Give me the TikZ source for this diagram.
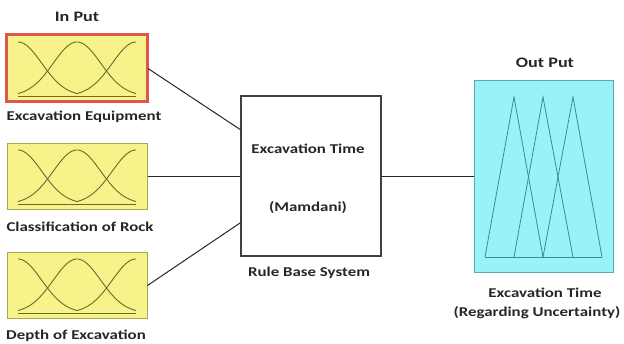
\documentclass[tikz,border=0pt]{standalone}
\usepackage{fontspec}
\setmainfont{Carlito}
\newfontfamily\lblfont[FakeStretch=1.25]{Carlito}
\usetikzlibrary{calc}
\definecolor{yfill}{HTML}{F7F38A}
\definecolor{ydraw}{HTML}{A9A750}
\definecolor{rdraw}{HTML}{E0574A}
\definecolor{mfcol}{HTML}{6B6A2E}
\definecolor{cfill}{HTML}{98F3F6}
\definecolor{cdraw}{HTML}{5AA9B0}
\definecolor{tricol}{HTML}{3A8C93}
\tikzset{
  inbox/.style={draw=ydraw, line width=1pt, fill=yfill, minimum width=140pt, minimum height=66pt, inner sep=0pt},
  lbl/.style={font=\lblfont\bfseries\fontsize{13.5}{15}\selectfont, text=black!85, inner sep=0pt, anchor=center},
  titlelbl/.style={font=\lblfont\bfseries\fontsize{14.5}{16}\selectfont, text=black!85, inner sep=0pt, anchor=center},
  conn/.style={draw=black!85, line width=1pt},
  mf/.style={draw=mfcol, line width=0.9pt},
  tri/.style={draw=tricol, line width=0.8pt}
}
\begin{document}
\begin{tikzpicture}[x=1pt,y=-1pt]
\useasboundingbox (0,0) rectangle (624,344);
% input boxes
\node[inbox, draw=rdraw, line width=2pt] (in1) at (77,68.5) {};
\node[inbox] (in2) at (77,176.5) {};
\node[inbox] (in3) at (77,285.5) {};
\draw[rdraw, line width=2pt] (in1.north west) rectangle (in1.south east);
% membership functions
\foreach \n in {in1,in2,in3}{
  \begin{scope}[shift={(\n.center)}]
    \draw[mf] (-59,27.5) -- (59,27.5);
    \draw[mf] plot[domain=-59:59, samples=60, smooth] (\x, {27.5-54*exp(-((\x)/33.6)^2)});
    \draw[mf] plot[domain=-59:0, samples=40, smooth] (\x, {27.5-54*exp(-((\x+59)/33.6)^2)});
    \draw[mf] plot[domain=0:59, samples=40, smooth] (\x, {27.5-54*exp(-((\x-59)/33.6)^2)});
  \end{scope}
}
\node[titlelbl] (tin) at (77,17) {In Put};
\node[lbl] (l1) at (84,117) {Excavation Equipment};
\node[lbl] (l2) at (80,227) {Classification of Rock};
\node[lbl] (l3) at (76,336) {Depth of Excavation};
% rule base
\node[draw=black!75, line width=1.2pt, fill=white, minimum width=140pt, minimum height=160pt, inner sep=0pt] (rb) at (311,176) {};
\node[lbl] (rt1) at (308,149) {Excavation Time};
\node[lbl] (rt2) at (308,208) {(Mamdani)};
\node[lbl] (rt3) at (309,273) {Rule Base System};
% output
\node[draw=cdraw, line width=1pt, fill=cfill, minimum width=139pt, minimum height=192pt, inner sep=0pt] (out) at (543.5,177) {};
\begin{scope}[shift={(out.center)}]
  \draw[tri] (-58.5,80) -- (58.5,80);
  \draw[tri] (-58.5,80) -- (-29.5,-80) -- (-0.5,80);
  \draw[tri] (-29.5,80) -- (-0.5,-80) -- (29.5,80);
  \draw[tri] (-0.5,80) -- (29.5,-80) -- (58.5,80);
\end{scope}
\node[titlelbl] (tout) at (545,63) {Out Put};
\node[lbl] (o1) at (545,293) {Excavation Time};
\node[lbl] (o2) at (537,313) {(Regarding Uncertainty)};
% connectors
\coordinate (c1) at ($(rb.north west)!0.2125!(rb.south west)$);
\coordinate (c3) at ($(rb.north west)!0.79!(rb.south west)$);
\draw[conn] (in1.east) -- (c1);
\draw[conn] (in2.east) -- (in2.east -| rb.west);
\draw[conn] (in3.east) -- (c3);
\draw[conn] (rb.east |- out.west) -- (out.west);
\end{tikzpicture}
\end{document}
